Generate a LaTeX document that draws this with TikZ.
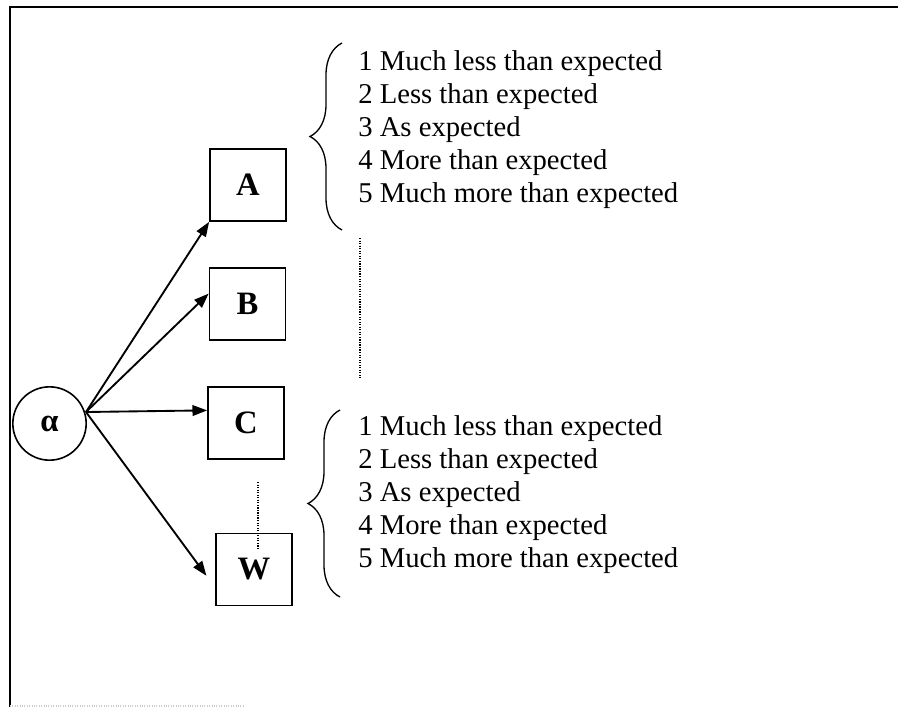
\documentclass[tikz,border=0pt]{standalone}
\usepackage{fontspec}
\setmainfont{Liberation Serif}
\usetikzlibrary{
  arrows.meta,
  decorations.pathreplacing
}
\tikzset{
  frame/.style={
    draw,
    line width=2pt
  },
  itembox/.style={
    draw,
    line width=1.3pt,
    minimum width=57pt,
    minimum height=54pt,
    inner sep=0pt,
    font=\fontsize{24.5}{26}\selectfont\bfseries
  },
  origin/.style={
    draw,
    circle,
    line width=1.2pt,
    minimum size=55pt,
    inner sep=0pt,
    font=\fontsize{24.5}{26}\selectfont\bfseries
  },
  link/.style={
    line width=1.4pt,
    -{Triangle[length=11pt,width=8pt]}
  },
  dotline/.style={
    line width=0.9pt,
    densely dotted
  },
  rating/.style={
    anchor=base west,
    inner sep=0pt,
    font=\fontsize{21.5}{24}\selectfont
  },
  bracket/.style={
    draw,
    line width=1pt,
    decorate,
    decoration={brace,amplitude=24pt,aspect=0.5}
  }
}

\begin{document}
\begin{tikzpicture}[x=0.75pt,y=-0.75pt]
  \useasboundingbox (0,0) rectangle (898,707);
  % frame of the scanned figure
  \draw[frame] (10,707) -- (10,7) -- (898,7);
  \draw[gray!40,densely dotted,line width=0.8pt] (10,706) -- (245,706);

  \node[origin] (alpha) at (49.5,423.5) {α};
  \node[itembox] (A) at (248,185) {A};
  \node[itembox] (B) at (247.5,304) {B};
  \node[itembox] (C) at (246,423) {C};
  \node[itembox] (W) at (254,569.5) {W};
  \coordinate (src) at (86,412);

  \draw[link] (src) -- (A.south west);
  \draw[link] (src) -- (B.165);
  \draw[link] (src) -- (C.162);
  \draw[link, shorten >=11pt] (src) -- (W.205);

  \draw[dotline] (258,482) -- (258,550);
  \draw[dotline] (360,238) -- (360,378);

  % rating scales
  \draw[bracket] (342,230) -- (342,43);
  \draw[bracket] (340,597) -- (340,410);
  \foreach \n/\txt in {1/Much less than expected,2/Less than expected,3/As expected,4/More than expected,5/Much more than expected}{
    \node[rating] (top\n) at (358,{70+33*(\n-1)}) {\n\ \txt};
    \node[rating] (low\n) at (358,{435+33*(\n-1)}) {\n\ \txt};
  }
\end{tikzpicture}
\end{document}
